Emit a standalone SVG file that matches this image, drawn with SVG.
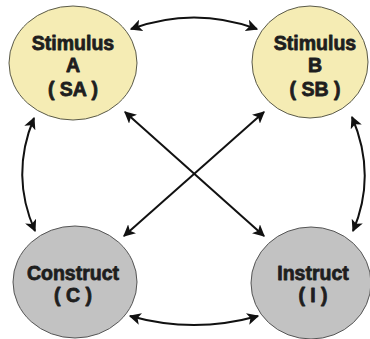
<svg xmlns="http://www.w3.org/2000/svg" width="370" height="339" viewBox="0 0 370 339">
  <style>
    .stim { fill: #f5ecb4; stroke: #5a5a4a; stroke-width: 1; }
    .core { fill: #c2c2c2; stroke: #555; stroke-width: 1; }
    .lbl { font-family: "Liberation Sans", Arial, sans-serif; font-weight: bold; font-size: 19.5px; fill: #1e1e1e; stroke: #1e1e1e; stroke-width: 0.8; stroke-linejoin: round; text-anchor: middle; }
    .link { fill: none; stroke: #111; stroke-width: 2; marker-start: url(#head); marker-end: url(#head); }
  </style>
  <defs>
    <marker id="head" viewBox="0 0 10 10" refX="9" refY="5" markerWidth="6" markerHeight="6" markerUnits="strokeWidth" orient="auto-start-reverse">
      <path d="M0,0 L10,5 L0,10 L2.5,5 Z" fill="#111"/>
    </marker>
  </defs>
  <rect width="370" height="339" fill="#ffffff"/>

  <g id="connectors">
    <path class="link" d="M131,29 Q194,6 257,29"/>
    <path class="link" d="M34,118 Q10,175 35,231"/>
    <path class="link" d="M352,117 Q377,175 353,231"/>
    <path class="link" d="M130,316 Q194,334 258,316"/>
    <path class="link" d="M125,112 L264,236"/>
    <path class="link" d="M264,112 L124,236"/>
  </g>

  <g id="stimulus-a">
    <ellipse class="stim" cx="73" cy="63" rx="64" ry="57"/>
    <text class="lbl" x="73" y="50">Stimulus</text>
    <text class="lbl" x="73" y="72">A</text>
    <text class="lbl" x="73" y="96">( SA )</text>
  </g>

  <g id="stimulus-b">
    <ellipse class="stim" cx="310" cy="62" rx="58" ry="56"/>
    <text class="lbl" x="315" y="50">Stimulus</text>
    <text class="lbl" x="315" y="72">B</text>
    <text class="lbl" x="315" y="96">( SB )</text>
  </g>

  <g id="construct">
    <ellipse class="core" cx="75" cy="282" rx="62" ry="56"/>
    <text class="lbl" x="73" y="280">Construct</text>
    <text class="lbl" x="73" y="302">( C )</text>
  </g>

  <g id="instruct">
    <ellipse class="core" cx="311" cy="283" rx="60" ry="56"/>
    <text class="lbl" x="313" y="280">Instruct</text>
    <text class="lbl" x="313" y="302">( I )</text>
  </g>
</svg>
